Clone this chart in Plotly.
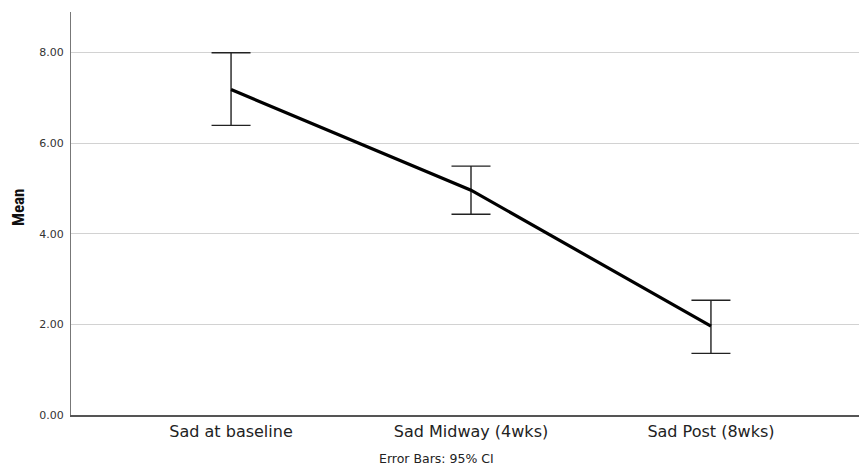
import plotly.graph_objects as go

categories = ["Sad at baseline", "Sad Midway (4wks)", "Sad Post (8wks)"]
means = [7.18, 4.96, 1.96]
ci_upper = [7.99, 5.49, 2.53]
ci_lower = [6.39, 4.43, 1.36]
y_ticks = [0, 2, 4, 6, 8]

err_plus = [u - m for u, m in zip(ci_upper, means)]
err_minus = [m - l for m, l in zip(means, ci_lower)]

fig = go.Figure()
fig.add_trace(go.Scatter(
    x=categories, y=means, mode="lines",
    line=dict(color="black", width=3.2),
    error_y=dict(type="data", symmetric=False, array=err_plus, arrayminus=err_minus,
                 color="#222222", thickness=1.4, width=19.5),
    showlegend=False, hoverinfo="skip",
))

narrow = "Liberation Sans Narrow, Arial Narrow, Roboto Condensed, sans-serif"
wide = "DejaVu Sans, Verdana, sans-serif"

fig.update_layout(
    width=859, height=467,
    margin=dict(l=71, r=0, t=12, b=52),
    paper_bgcolor="white", plot_bgcolor="white",
    xaxis=dict(
        type="category", range=[-0.667, 2.617],
        showgrid=False, zeroline=False,
        showline=True, linecolor="#555555", linewidth=1.5,
        ticks="", tickfont=dict(family=wide, size=16, color="#222222"),
        ticklabelstandoff=1,
    ),
    yaxis=dict(
        range=[0, 8.89], tickvals=y_ticks, tickformat=".2f",
        showgrid=True, gridcolor="#d2d2d2", gridwidth=1,
        zeroline=False,
        showline=True, linecolor="#777777", linewidth=1,
        ticks="", tickfont=dict(family=wide, size=11, color="#333333"),
        ticklabelstandoff=4,
    ),
    annotations=[
        dict(text="<b>Mean</b>", textangle=-90, xref="paper", yref="paper",
             x=(17.5 - 71) / 788, y=(415 - 207.5) / 403, showarrow=False,
             xanchor="center", yanchor="middle",
             font=dict(family=narrow, size=17, color="#111111")),
        dict(text="Error Bars: 95% CI", xref="paper", yref="paper",
             x=(436 - 71) / 788, y=-(458 - 415) / 403, showarrow=False,
             xanchor="center", yanchor="middle",
             font=dict(family=wide, size=12.5, color="#222222")),
    ],
)

fig.write_html("out.html", config={"displayModeBar": False},
               post_script="document.body.style.margin='0';document.body.style.padding='0';")
